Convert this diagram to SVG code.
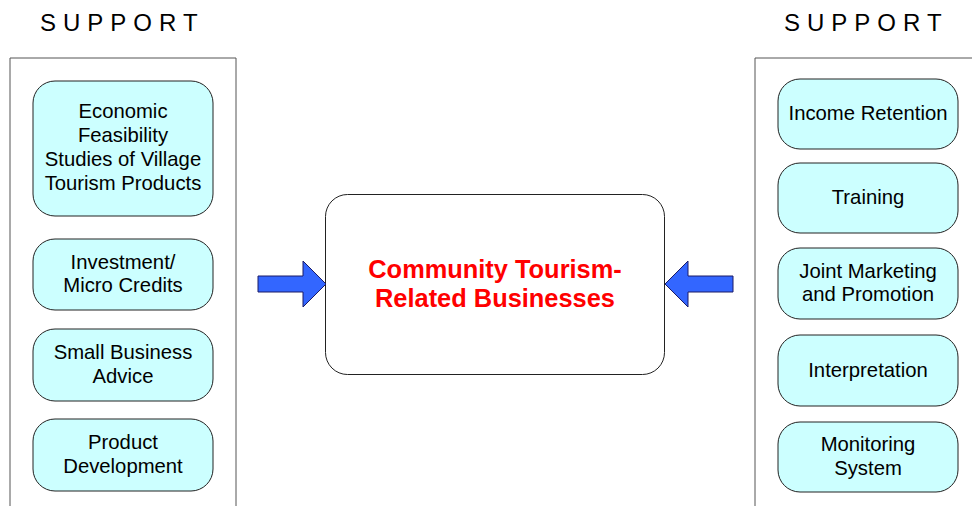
<svg xmlns="http://www.w3.org/2000/svg" width="972" height="506" viewBox="0 0 972 506">
<style>
.panel{fill:none;stroke:#555;stroke-width:1}
.box{fill:#ccffff;stroke:#222;stroke-width:1}
.t{font-family:"Liberation Sans",Arial,sans-serif;font-size:20.3px;fill:#000;text-anchor:middle}
.h{font-family:"Liberation Sans",Arial,sans-serif;font-size:24px;fill:#000;letter-spacing:7px}
.c{font-family:"Liberation Sans",Arial,sans-serif;font-size:25.4px;font-weight:bold;fill:#ff0000;text-anchor:middle}
.arr{fill:#3366ff;stroke:#1a1a66;stroke-width:1}
</style>
<rect width="972" height="506" fill="#fff"/>
<text class="h" x="40" y="31">SUPPORT</text>
<text class="h" x="784" y="31">SUPPORT</text>
<path class="panel" d="M10,507 V58 H236 V507"/>
<path class="panel" d="M755,507 V58 H973"/>
<g id="n-econ"><rect class="box" x="33" y="81" width="180" height="135" rx="22"/>
<text class="t" x="123" y="118">Economic</text><text class="t" x="123" y="142">Feasibility</text><text class="t" x="123" y="166">Studies of Village</text><text class="t" x="123" y="190">Tourism Products</text></g>
<g id="n-invest"><rect class="box" x="33" y="239" width="180" height="71" rx="22"/>
<text class="t" x="123" y="269">Investment/</text><text class="t" x="123" y="292">Micro Credits</text></g>
<g id="n-small"><rect class="box" x="33" y="329" width="180" height="72" rx="22"/>
<text class="t" x="123" y="359">Small Business</text><text class="t" x="123" y="383">Advice</text></g>
<g id="n-product"><rect class="box" x="33" y="419" width="180" height="72" rx="22"/>
<text class="t" x="123" y="449">Product</text><text class="t" x="123" y="473">Development</text></g>
<g id="n-income"><rect class="box" x="778" y="79" width="180" height="70" rx="22"/>
<text class="t" x="868" y="120">Income Retention</text></g>
<g id="n-training"><rect class="box" x="778" y="163" width="180" height="70" rx="22"/>
<text class="t" x="868" y="204">Training</text></g>
<g id="n-joint"><rect class="box" x="778" y="248" width="180" height="71" rx="22"/>
<text class="t" x="868" y="278">Joint Marketing</text><text class="t" x="868" y="301">and Promotion</text></g>
<g id="n-interp"><rect class="box" x="778" y="335" width="180" height="71" rx="22"/>
<text class="t" x="868" y="377">Interpretation</text></g>
<g id="n-monitor"><rect class="box" x="778" y="422" width="180" height="70" rx="22"/>
<text class="t" x="868" y="451">Monitoring</text><text class="t" x="868" y="475">System</text></g>
<g id="n-center"><rect x="325.5" y="194.5" width="339" height="180" rx="22" fill="#fff" stroke="#222" stroke-width="1"/>
<text class="c" x="495" y="278">Community Tourism-</text><text class="c" x="495" y="307">Related Businesses</text></g>
<g id="connectors">
<path class="arr" d="M258,276 H303 V261 L326,284 L303,307 V292 H258 Z"/>
<path class="arr" d="M733,276 H688 V261 L665,284 L688,307 V292 H733 Z"/>
</g>
</svg>
